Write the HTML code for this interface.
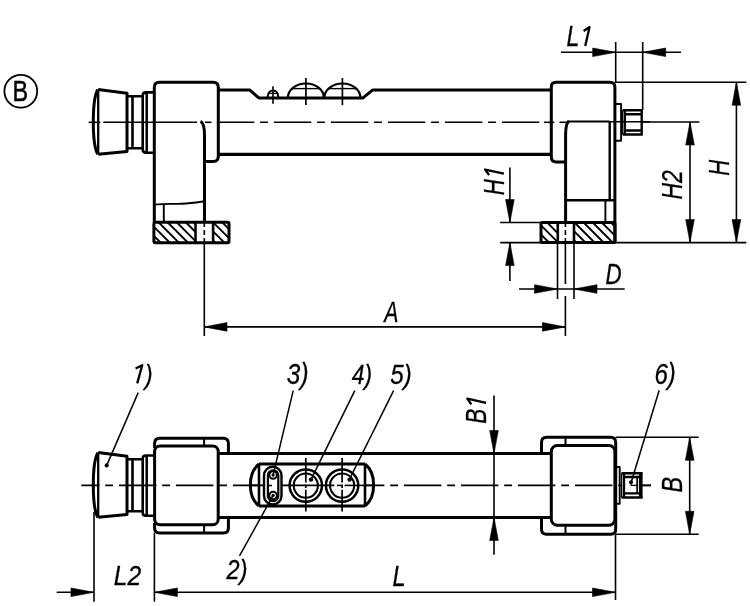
<!DOCTYPE html>
<html><head><meta charset="utf-8"><style>
html,body{margin:0;padding:0;background:#fff;}
svg{display:block;will-change:transform;}
text{font-family:"Liberation Sans",sans-serif;fill:#000;stroke:#000;stroke-width:0.3;}
</style></head><body>
<svg width="750" height="606" viewBox="0 0 750 606" fill="none" stroke="#000" stroke-linecap="butt" stroke-linejoin="round">
<rect x="0" y="0" width="750" height="606" fill="#fff" stroke="none"/>
<circle cx="20.8" cy="91.3" r="16.4" stroke-width="1.8"/>
<text transform="translate(12.53,100.80) scale(0.815,1)" font-size="28.70" font-style="normal" style="stroke:#000;stroke-width:0.5">B</text>
<line x1="88.7" y1="122.3" x2="100.3" y2="122.3" stroke-width="1.6" />
<line x1="103.3" y1="122.3" x2="197" y2="122.3" stroke-width="1.6" />
<line x1="205" y1="122.3" x2="211.5" y2="122.3" stroke-width="1.6" />
<line x1="216.9" y1="122.3" x2="541" y2="122.3" stroke-width="1.6" stroke-dasharray="37.4,5.8,7.8,6" stroke-dashoffset="0.00"/>
<line x1="544" y1="122.3" x2="554.3" y2="122.3" stroke-width="1.6" />
<line x1="559.5" y1="122.3" x2="567" y2="122.3" stroke-width="1.6" />
<path d="M98.2,89.5 L127,93.2 L127,151.4 L98.2,154.2" stroke-width="3.0" />
<line x1="98.2" y1="89.5" x2="98.2" y2="154.2" stroke-width="2.3" />
<path d="M97.8,89.6 C91.8,100 91.8,144 97.8,154.3" stroke-width="3.0" />
<path d="M127,96.2 H142.7 M127,148.2 H142.7" stroke-width="2.6" />
<line x1="132.5" y1="96.2" x2="132.5" y2="148.2" stroke-width="2.6" />
<path d="M154,92.4 H146 Q142.7,92.4 142.7,95.5 V149.6 Q142.7,152.7 146,152.7 H154" stroke-width="2.6" />
<line x1="146.7" y1="92.4" x2="146.7" y2="152.7" stroke-width="2.5" />
<path d="M154.3,222 V87.3 Q154.3,82.3 159.3,82.3 H213.3 Q218.3,82.3 218.3,87.3 V156.6 Q218.3,161.6 213.3,161.6 H204.5" stroke-width="3.0" />
<path d="M200.5,121.3 Q204.5,123 204.5,135 V222" stroke-width="3.0" />
<path d="M154.3,204.6 C170,203 176,204.5 186,203.5 C194,202.8 200,202 204.5,201.2" stroke-width="1.9" />
<line x1="163.8" y1="204" x2="163.8" y2="222" stroke-width="1.9" />
<path d="M154.0,236.0L161.0,243.0M154.0,226.9L170.1,243.0M158.2,222.0L179.2,243.0M167.3,222.0L188.3,243.0M176.4,222.0L195.5,241.1M185.5,222.0L195.5,232.0M194.6,222.0L195.5,222.9" stroke-width="1.8" />
<path d="M213.1,240.5L215.6,243.0M213.1,231.4L224.7,243.0M213.1,222.3L229.0,238.2M221.9,222.0L229.0,229.1" stroke-width="1.8" />
<rect x="153.9" y="222.2" width="75.1" height="20.6" rx="1.5" stroke-width="3"/>
<line x1="195.5" y1="222" x2="195.5" y2="243" stroke-width="2.6" />
<line x1="213.1" y1="222" x2="213.1" y2="243" stroke-width="2.6" />
<line x1="204.3" y1="222" x2="204.3" y2="243" stroke-width="1.6" stroke-dasharray="5,3"/>
<line x1="204.3" y1="243" x2="204.3" y2="336" stroke-width="1.6" />
<path d="M218.3,89.9 H249.6 L258.8,97.9 H363 L372.8,89.9 H551.3" stroke-width="3.0" />
<path d="M218.3,154.3 H551.3" stroke-width="3.2" />
<path d="M266.3,97.9 Q268,97.5 268,95.5 A5,5 0 0 1 278,95.5 Q278,97.5 279.7,97.9" stroke-width="2.0" />
<line x1="273" y1="86.2" x2="273" y2="103.8" stroke-width="1.6" />
<line x1="269" y1="93.4" x2="277" y2="93.4" stroke-width="1.3" />
<path d="M287.9,97.9 A18,14.4 0 0 1 323.9,97.9" stroke-width="2.2" />
<line x1="305.9" y1="78.1" x2="305.9" y2="105.1" stroke-width="1.7" />
<line x1="292.09999999999997" y1="88.6" x2="319.7" y2="88.6" stroke-width="1.4" />
<path d="M324.4,97.9 A18,14.4 0 0 1 360.4,97.9" stroke-width="2.2" />
<line x1="342.4" y1="78.1" x2="342.4" y2="105.1" stroke-width="1.7" />
<line x1="328.59999999999997" y1="88.6" x2="356.2" y2="88.6" stroke-width="1.4" />
<path d="M565.6,162 H556.3 Q551.3,162 551.3,157 V87 Q551.3,82.3 556.3,82.3 H609.7 Q614.9,82.3 614.9,87 V243" stroke-width="3.0" />
<path d="M569,121.3 Q565.6,123 565.6,135 V222" stroke-width="3.0" />
<line x1="609.7" y1="121.5" x2="609.7" y2="200" stroke-width="2.4" />
<line x1="567" y1="121.6" x2="609.7" y2="121.6" stroke-width="2.0" />
<line x1="565.6" y1="200.2" x2="614.9" y2="200.2" stroke-width="2.4" />
<line x1="605.4" y1="200" x2="605.4" y2="222" stroke-width="1.9" />
<path d="M541.0,234.5L549.0,242.5M541.0,225.4L558.0,242.4M547.2,222.5L558.0,233.3M556.3,222.5L558.0,224.2" stroke-width="1.8" />
<path d="M574.0,240.2L576.3,242.5M574.0,231.1L585.4,242.5M574.5,222.5L594.5,242.5M583.6,222.5L603.6,242.5M592.7,222.5L612.7,242.5M601.8,222.5L615.0,235.7M610.9,222.5L615.0,226.6" stroke-width="1.8" />
<rect x="541" y="222.6" width="74" height="20" rx="1.5" stroke-width="3"/>
<line x1="557.8" y1="222" x2="557.8" y2="243" stroke-width="2.6" />
<line x1="574" y1="222" x2="574" y2="243" stroke-width="2.6" />
<line x1="565.4" y1="222" x2="565.4" y2="243" stroke-width="1.6" stroke-dasharray="5,3"/>
<line x1="565.4" y1="243" x2="565.4" y2="284" stroke-width="1.6" />
<line x1="565.4" y1="296" x2="565.4" y2="336" stroke-width="1.6" />
<line x1="609.7" y1="121.8" x2="650" y2="121.8" stroke-width="1.6" />
<path d="M615.4,104 H621.1 V140.8 H615.4" stroke-width="1.9" />
<line x1="622.7" y1="110.3" x2="622.7" y2="134.5" stroke-width="1.3" />
<line x1="624.9" y1="110.3" x2="624.9" y2="134.5" stroke-width="2.3" />
<line x1="641.7" y1="110.3" x2="641.7" y2="134.5" stroke-width="2.4" />
<path d="M622.7,110.3 H642.8 M622.7,134.5 H642.8" stroke-width="2.5" />
<path d="M624.9,114.3 H641.7 M624.9,130.5 H641.7" stroke-width="2.4" />
<line x1="615.7" y1="42" x2="615.7" y2="82" stroke-width="1.6" />
<line x1="642.7" y1="42" x2="642.7" y2="110" stroke-width="1.6" />
<line x1="561" y1="52.3" x2="681" y2="52.3" stroke-width="1.6" />
<polygon points="615.70,52.30 592.70,48.00 592.70,56.60" fill="#000" stroke="#000" stroke-width="0.6"/>
<polygon points="642.70,52.30 665.70,48.00 665.70,56.60" fill="#000" stroke="#000" stroke-width="0.6"/>
<g transform="translate(566.51,46.00) scale(0.798,1)"><text font-size="28.99" font-style="italic">L</text><path d="M23.48,0 L28.87,-18.99 L21.48,-14.93" stroke-width="2.3" vector-effect="non-scaling-stroke" stroke-linejoin="round"/></g>
<line x1="615" y1="82.2" x2="746.3" y2="82.2" stroke-width="1.6" />
<line x1="500.2" y1="242.6" x2="746.3" y2="242.6" stroke-width="1.6" />
<line x1="736.4" y1="82.2" x2="736.4" y2="242.6" stroke-width="1.6" />
<polygon points="736.40,82.20 732.10,105.20 740.70,105.20" fill="#000" stroke="#000" stroke-width="0.6"/>
<polygon points="736.40,242.60 732.10,219.60 740.70,219.60" fill="#000" stroke="#000" stroke-width="0.6"/>
<text transform="translate(728.60,175.77) rotate(-90) scale(0.757,1)" font-size="29.28" font-style="italic">H</text>
<line x1="643" y1="122" x2="699.4" y2="122" stroke-width="1.6" />
<line x1="690" y1="122" x2="690" y2="242.6" stroke-width="1.6" />
<polygon points="690.00,122.00 685.70,145.00 694.30,145.00" fill="#000" stroke="#000" stroke-width="0.6"/>
<polygon points="690.00,242.60 685.70,219.60 694.30,219.60" fill="#000" stroke="#000" stroke-width="0.6"/>
<text transform="translate(682.10,199.39) rotate(-90) scale(0.788,1)" font-size="28.99" font-style="italic">H2</text>
<line x1="500.2" y1="222.5" x2="541" y2="222.5" stroke-width="1.6" />
<line x1="509.9" y1="167.6" x2="509.9" y2="222.5" stroke-width="1.6" />
<polygon points="509.90,222.50 505.60,199.50 514.20,199.50" fill="#000" stroke="#000" stroke-width="0.6"/>
<line x1="509.9" y1="242.6" x2="509.9" y2="280.9" stroke-width="1.6" />
<polygon points="509.90,242.60 505.60,265.60 514.20,265.60" fill="#000" stroke="#000" stroke-width="0.6"/>
<g transform="translate(503.90,195.37) rotate(-90) scale(0.775,1)"><text font-size="28.70" font-style="italic">H</text><path d="M28.01,0 L33.35,-18.80 L26.03,-14.78" stroke-width="2.3" vector-effect="non-scaling-stroke" stroke-linejoin="round"/></g>
<line x1="557.5" y1="242" x2="557.5" y2="299" stroke-width="1.6" />
<line x1="574" y1="242" x2="574" y2="299" stroke-width="1.6" />
<line x1="519" y1="289" x2="624.7" y2="289" stroke-width="1.6" />
<polygon points="557.50,289.00 534.50,284.70 534.50,293.30" fill="#000" stroke="#000" stroke-width="0.6"/>
<polygon points="574.00,289.00 597.00,284.70 597.00,293.30" fill="#000" stroke="#000" stroke-width="0.6"/>
<text transform="translate(605.43,284.30) scale(0.765,1)" font-size="29.13" font-style="italic">D</text>
<line x1="204" y1="326.9" x2="565.4" y2="326.9" stroke-width="1.6" />
<polygon points="204.00,326.90 227.00,322.60 227.00,331.20" fill="#000" stroke="#000" stroke-width="0.6"/>
<polygon points="565.40,326.90 542.40,322.60 542.40,331.20" fill="#000" stroke="#000" stroke-width="0.6"/>
<text transform="translate(384.16,321.80) scale(0.739,1)" font-size="28.70" font-style="italic">A</text>
<line x1="81.3" y1="485.4" x2="651" y2="485.4" stroke-width="1.6" stroke-dasharray="37.4,5.8,7.8,6" stroke-dashoffset="19.30"/>
<path d="M98.2,452.6 L127,456.3 L127,514.5 L98.2,517.3" stroke-width="3.0" />
<line x1="98.2" y1="452.6" x2="98.2" y2="517.3" stroke-width="2.3" />
<path d="M97.8,452.70000000000005 C91.8,463.1 91.8,507.1 97.8,517.4000000000001" stroke-width="3.0" />
<path d="M127,459.3 H142.7 M127,511.3 H142.7" stroke-width="2.6" />
<line x1="132.5" y1="459.3" x2="132.5" y2="511.3" stroke-width="2.6" />
<path d="M154,455.5 H146 Q142.7,455.5 142.7,458.6 V512.7 Q142.7,515.8 146,515.8 H154" stroke-width="2.6" />
<line x1="146.7" y1="455.5" x2="146.7" y2="515.8" stroke-width="2.5" />
<rect x="154.6" y="446" width="63.6" height="78.7" rx="5.5" stroke-width="3"/>
<path d="M154.6,448 V443.2 Q154.6,438.2 159.6,438.2 H223.4 Q228.4,438.2 228.4,443.2 V453.5" stroke-width="3.0" />
<path d="M228.4,517 V528.1 Q228.4,533.1 223.4,533.1 H159.6 Q154.6,533.1 154.6,528.1 V523" stroke-width="3.0" />
<line x1="204.1" y1="438.2" x2="204.1" y2="446" stroke-width="2" />
<line x1="204.1" y1="524.7" x2="204.1" y2="533.1" stroke-width="2" />
<path d="M218.2,453.4 H551.3 M218.2,517.4 H551.3" stroke-width="3.0" />
<rect x="551.3" y="445.5" width="63.6" height="79.8" rx="6" stroke-width="3"/>
<path d="M541.5,453.2 V442.4 Q541.5,437.3 546.5,437.3 H610.7 Q615.7,437.3 615.7,442.3 V529.3 Q615.7,534.3 610.7,534.3 H546.5 Q541.5,534.3 541.5,529.3 V518" stroke-width="3.0" />
<line x1="565.5" y1="437.3" x2="565.5" y2="445.5" stroke-width="2" />
<line x1="565.5" y1="525.3" x2="565.5" y2="534.3" stroke-width="2" />
<path d="M615.4,467 H619.7 V503.7 H615.4" stroke-width="1.9" />
<rect x="621.6" y="473.2" width="19" height="24.4" fill="#fff" stroke="none"/>
<line x1="621.6" y1="473.2" x2="621.6" y2="497.6" stroke-width="1.3" />
<line x1="624" y1="473.2" x2="624" y2="497.6" stroke-width="2.3" />
<line x1="637.2" y1="477" x2="637.2" y2="493.4" stroke-width="1.8" />
<rect x="639" y="473.2" width="3.6" height="24.4" fill="#000" stroke="none"/>
<path d="M621.6,473.2 H642.6 M621.6,497.6 H642.6" stroke-width="2.5" />
<path d="M624,477 H639 M624,493.4 H639" stroke-width="2.3" />
<line x1="631" y1="482.3" x2="631" y2="485.4" stroke-width="1.3" />
<line x1="631" y1="485.4" x2="637.2" y2="485.4" stroke-width="1.3" />
<circle cx="631" cy="482.3" r="2.0" fill="#000" stroke="none"/>
<line x1="642.6" y1="485.4" x2="651" y2="485.4" stroke-width="1.6" />
<rect x="259" y="464" width="106" height="42" fill="#fff" stroke="none"/>
<path d="M259,464 H365 M259,506 H365" stroke-width="3" />
<line x1="259" y1="464" x2="259" y2="506" stroke-width="2.6" />
<line x1="365" y1="464" x2="365" y2="506" stroke-width="2.6" />
<path d="M259,464 C247.5,473 247.5,497 259,506" stroke-width="3" />
<path d="M365,464 C376.5,473 376.5,497 365,506" stroke-width="3" />
<line x1="250" y1="485.4" x2="334.3" y2="485.4" stroke-width="1.6" />
<line x1="336.9" y1="485.4" x2="341.6" y2="485.4" stroke-width="1.6" />
<line x1="344.6" y1="485.4" x2="373" y2="485.4" stroke-width="1.6" />
<rect x="264.0" y="466.8" width="17.5" height="37.6" rx="8.75" fill="#fff" stroke-width="2.4"/>
<rect x="267.9" y="470.3" width="10.4" height="30.8" rx="5.2" stroke-width="2.2"/>
<line x1="268.5" y1="485.5" x2="272" y2="485.5" stroke-width="1.6" />
<circle cx="273.1" cy="475.1" r="3.7" stroke-width="1.9"/>
<circle cx="273.1" cy="495.4" r="3.7" stroke-width="1.9"/>
<circle cx="273.1" cy="475.1" r="1.6" fill="#000" stroke="none"/>
<circle cx="273.1" cy="495.4" r="1.6" fill="#000" stroke="none"/>
<circle cx="305.8" cy="485.6" r="16.2" stroke-width="2.5"/>
<circle cx="305.8" cy="485.6" r="12.1" stroke-width="2.1"/>
<line x1="305.8" y1="458" x2="305.8" y2="511.4" stroke-width="1.7" stroke-dasharray="24.6,1.8,3.6,1.8,30"/>
<circle cx="311" cy="479.6" r="2.2" fill="#000" stroke="none"/>
<circle cx="342.1" cy="485.6" r="16.2" stroke-width="2.5"/>
<circle cx="342.1" cy="485.6" r="12.1" stroke-width="2.1"/>
<line x1="342.1" y1="458" x2="342.1" y2="511.4" stroke-width="1.7" stroke-dasharray="24.6,1.8,3.6,1.8,30"/>
<circle cx="349.6" cy="479.6" r="2.2" fill="#000" stroke="none"/>
<path d="M137.2,383.4 L142.2,365.2 L135.6,368.6" stroke-width="2.3" />
<text transform="translate(144.88,383.60) scale(0.854,1)" font-size="27.00" font-style="italic">)</text>
<line x1="138.2" y1="392.6" x2="106.7" y2="465.4" stroke-width="1.5" />
<circle cx="106.7" cy="465.4" r="2.1" fill="#000" stroke="none"/>
<text transform="translate(286.87,383.70) scale(0.849,1)" font-size="28.70" font-style="italic">3)</text>
<line x1="293.2" y1="390.7" x2="273.1" y2="475.1" stroke-width="1.5" />
<text transform="translate(351.77,383.70) scale(0.799,1)" font-size="28.55" font-style="italic">4)</text>
<line x1="354.8" y1="390.7" x2="311" y2="479.6" stroke-width="1.5" />
<text transform="translate(390.32,383.70) scale(0.848,1)" font-size="28.55" font-style="italic">5)</text>
<line x1="393.6" y1="390.7" x2="349.6" y2="479" stroke-width="1.5" />
<text transform="translate(654.46,383.70) scale(0.837,1)" font-size="28.70" font-style="italic">6)</text>
<line x1="659.2" y1="390.3" x2="631.2" y2="482.3" stroke-width="1.5" />
<text transform="translate(226.60,579.00) scale(0.849,1)" font-size="27.68" font-style="italic">2)</text>
<line x1="239.5" y1="555.9" x2="273.1" y2="495.4" stroke-width="1.5" />
<line x1="494" y1="395.6" x2="494" y2="554.7" stroke-width="1.6" />
<polygon points="494.00,453.50 489.70,430.50 498.30,430.50" fill="#000" stroke="#000" stroke-width="0.6"/>
<polygon points="494.00,517.40 489.70,540.40 498.30,540.40" fill="#000" stroke="#000" stroke-width="0.6"/>
<g transform="translate(486.10,423.68) rotate(-90) scale(0.788,1)"><text font-size="28.70" font-style="italic">B</text><path d="M26.43,0 L31.77,-18.80 L24.45,-14.78" stroke-width="2.3" vector-effect="non-scaling-stroke" stroke-linejoin="round"/></g>
<line x1="615.7" y1="437.3" x2="698.7" y2="437.3" stroke-width="1.6" />
<line x1="615.7" y1="534.3" x2="698.7" y2="534.3" stroke-width="1.6" />
<line x1="689.7" y1="437.3" x2="689.7" y2="534.3" stroke-width="1.6" />
<polygon points="689.70,437.30 685.40,460.30 694.00,460.30" fill="#000" stroke="#000" stroke-width="0.6"/>
<polygon points="689.70,534.30 685.40,511.30 694.00,511.30" fill="#000" stroke="#000" stroke-width="0.6"/>
<text transform="translate(682.30,492.40) rotate(-90) scale(0.807,1)" font-size="29.13" font-style="italic">B</text>
<line x1="94" y1="512" x2="94" y2="601.7" stroke-width="1.6" />
<line x1="154.4" y1="532.6" x2="154.4" y2="601.7" stroke-width="1.6" />
<line x1="615.5" y1="534.3" x2="615.5" y2="600" stroke-width="1.6" />
<line x1="56.7" y1="592.3" x2="94" y2="592.3" stroke-width="1.6" />
<polygon points="94.00,592.30 71.00,588.00 71.00,596.60" fill="#000" stroke="#000" stroke-width="0.6"/>
<line x1="154.4" y1="592.3" x2="615.5" y2="592.3" stroke-width="1.6" />
<polygon points="154.40,592.30 177.40,588.00 177.40,596.60" fill="#000" stroke="#000" stroke-width="0.6"/>
<polygon points="615.50,592.30 592.50,588.00 592.50,596.60" fill="#000" stroke="#000" stroke-width="0.6"/>
<text transform="translate(113.86,585.20) scale(0.873,1)" font-size="28.26" font-style="italic">L2</text>
<text transform="translate(392.49,585.50) scale(0.801,1)" font-size="29.42" font-style="italic">L</text>
</svg>
</body></html>
